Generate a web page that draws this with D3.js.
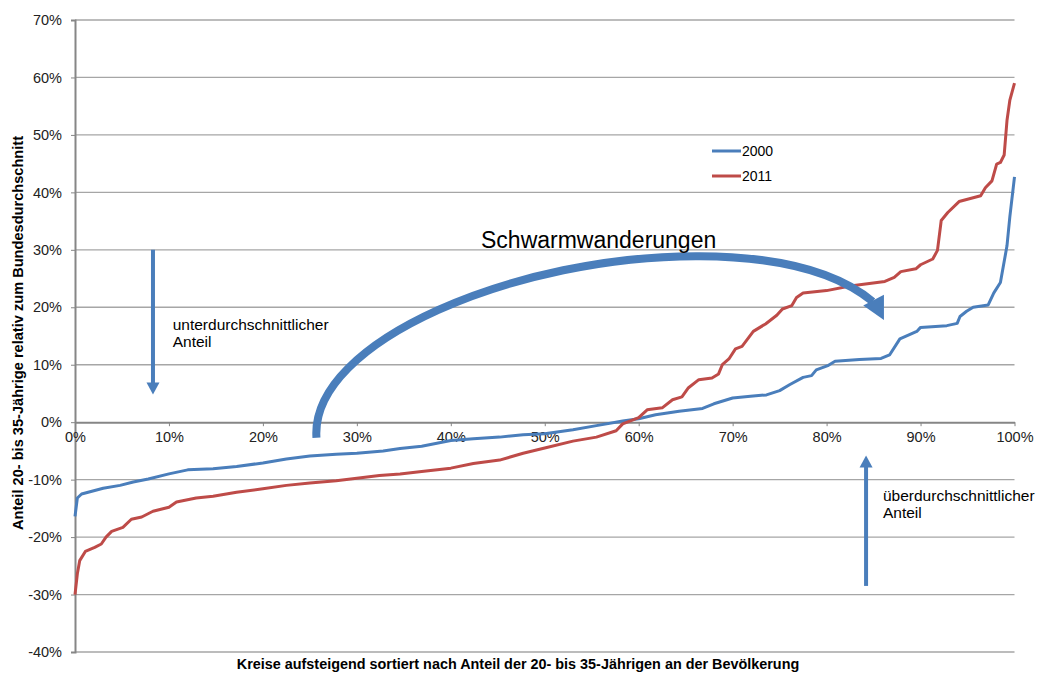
<!DOCTYPE html>
<html>
<head>
<meta charset="utf-8">
<script src="https://cdn.jsdelivr.net/npm/d3@7"></script>
<style>
  body { margin: 0; background: #fff; }
  svg { font-family: "Liberation Sans", Arial, sans-serif; }
</style>
</head>
<body>
<script>
// Rang der Kreise in % (x) und Abweichung vom Bundesdurchschnitt in % (y)
const rank2000 = [0, 0.25, 0.7, 1.6, 3, 4.8, 6.2, 7.8, 10, 12, 14.7, 17.2, 20, 22.5, 25, 27.8, 30, 32.8, 34.6, 36.9,
  40, 42.4, 45.2, 47.7, 50, 53, 55.5, 58.3, 60, 61.8, 64.3, 66.8, 68, 70, 71.9, 73.6, 75, 76.1, 77.5, 78.4,
  78.9, 80.2, 80.9, 83.5, 85.8, 86.7, 87.8, 89.6, 90, 92.8, 93.9, 94.2, 94.9, 95.6, 97.2, 97.8, 98.5, 99.2, 99.5, 100];
const values2000 = [-16.4, -13.2, -12.5, -12.1, -11.5, -11.0, -10.4, -9.9, -9.0, -8.3, -8.1, -7.7, -7.1, -6.4, -5.9, -5.6, -5.4, -5.0, -4.6, -4.2,
  -3.2, -2.9, -2.6, -2.2, -2.0, -1.3, -0.6, 0.2, 0.6, 1.3, 1.9, 2.4, 3.2, 4.2, 4.5, 4.75, 5.5, 6.55, 7.8, 8.1,
  9.1, 9.9, 10.6, 10.9, 11.1, 11.7, 14.5, 15.8, 16.5, 16.8, 17.2, 18.4, 19.3, 20.0, 20.4, 22.5, 24.3, 30.7, 35.7, 42.7];

const rank2011 = [0, 0.25, 0.5, 1.1, 2.1, 2.8, 3.3, 3.9, 5.1, 6, 7.1, 8.3, 10, 10.8, 12.9, 14.7, 17.2, 20, 22.5, 25,
  27.8, 30, 32.4, 34.6, 36.9, 40, 42.4, 45.2, 47.7, 50, 53, 55.5, 57.6, 58.3, 60, 60.9, 62.5, 63.6, 64.6, 65.3,
  66.4, 67.8, 68.5, 68.9, 69.6, 70.3, 71, 72.2, 73.5, 74.7, 75.3, 76.3, 76.8, 77.5, 80, 82.5, 86.2, 87.2, 87.9, 89.5,
  90, 91.3, 91.8, 92.2, 92.9, 94.1, 96.4, 96.9, 97.6, 98.1, 98.5, 98.9, 99.2, 99.5, 100];
const values2011 = [-30, -26.4, -24.1, -22.5, -21.8, -21.2, -20, -19, -18.3, -16.9, -16.5, -15.5, -14.8, -13.9, -13.2, -12.9, -12.2, -11.6, -11.0, -10.6,
  -10.2, -9.75, -9.3, -9.0, -8.6, -8.0, -7.2, -6.6, -5.4, -4.5, -3.3, -2.6, -1.5, -0.3, 0.8, 2.15, 2.5, 3.9, 4.4, 6.0,
  7.4, 7.7, 8.4, 10.0, 11.0, 12.75, 13.2, 15.8, 17.1, 18.6, 19.7, 20.3, 21.7, 22.5, 22.9, 23.7, 24.5, 25.2, 26.2, 26.7,
  27.4, 28.4, 29.9, 35.1, 36.5, 38.4, 39.4, 40.8, 42.0, 44.9, 45.2, 46.5, 52.5, 56, 59];

const xTicks = [0, 10, 20, 30, 40, 50, 60, 70, 80, 90, 100];
const yTicks = [-40, -30, -20, -10, 0, 10, 20, 30, 40, 50, 60, 70];
const seriesNames = ["2000", "2011"];
const colors = ["#4a7ebb", "#be4b48"];

const width = 1039;
const height = 675;

const x = d3.scaleLinear().domain([0, 100]).range([75, 1014.5]);
const y = d3.scaleLinear().domain([-40, 70]).range([652, 20]);

const svg = d3.select("body").append("svg")
  .attr("width", width)
  .attr("height", height);

// gridlines
svg.append("g")
  .selectAll("line")
  .data(yTicks.filter(d => d !== 0))
  .enter()
  .append("line")
  .attr("x1", x(0)).attr("x2", x(100))
  .attr("y1", d => y(d)).attr("y2", d => y(d))
  .style("stroke", "#a6a6a6")
  .style("stroke-width", 1.3);

// y axis
const yAxis = svg.append("g")
  .attr("transform", `translate(${x(0)},0)`)
  .call(d3.axisLeft(y).tickValues(yTicks).tickSize(4).tickPadding(9).tickFormat(d => d + "%"));
yAxis.select(".domain").style("stroke", "#868686").style("stroke-width", 2);
yAxis.selectAll(".tick line").style("stroke", "#868686");
yAxis.selectAll("text").style("font-size", "14.5px").style("font-family", null).style("fill", "#222");

// x axis on the 0 line
const xAxis = svg.append("g")
  .attr("transform", `translate(0,${y(0)})`)
  .call(d3.axisBottom(x).tickValues(xTicks).tickSize(4).tickSizeOuter(0).tickPadding(6).tickFormat(d => d + "%"));
xAxis.select(".domain").style("stroke", "#868686").style("stroke-width", 2);
xAxis.selectAll(".tick line").style("stroke", "#868686");
xAxis.selectAll("text").style("font-size", "14.5px").style("font-family", null).style("fill", "#222");

// series
const line = d3.line()
  .x(d => x(d[0]))
  .y(d => y(d[1]));

const series = [
  d3.zip(rank2000, values2000),
  d3.zip(rank2011, values2011)
];

svg.append("g")
  .selectAll("path")
  .data(series)
  .enter()
  .append("path")
  .attr("d", line)
  .style("fill", "none")
  .style("stroke", (d, i) => colors[i])
  .style("stroke-width", 3)
  .style("stroke-linejoin", "round");

// legend
const legend = svg.append("g")
  .selectAll("g")
  .data(seriesNames)
  .enter()
  .append("g")
  .attr("transform", (d, i) => `translate(712,${151 + i * 25})`);
legend.append("line")
  .attr("x1", 0).attr("x2", 29)
  .style("stroke", (d, i) => colors[i])
  .style("stroke-width", 3);
legend.append("text")
  .attr("x", 30).attr("dy", "0.35em")
  .style("font-size", "14px")
  .text(d => d);

// annotations
const arrowColor = "#4a7ebb";
const ann = svg.append("g");

// big curved arrow "Schwarmwanderungen"
const curve = d3.path();
curve.moveTo(x(25.7), y(-2.7));
curve.bezierCurveTo(x(25.0), y(14.3), x(47.4), y(29.1), x(66.5), y(28.9));
curve.bezierCurveTo(x(75.6), y(28.8), x(81.5), y(25.6), x(84.9), y(21.0));
ann.append("path")
  .attr("d", curve.toString())
  .style("fill", "none")
  .style("stroke", arrowColor)
  .style("stroke-width", 8);
ann.append("path")
  .attr("d", d3.line()([[x(83.9), y(20.3)], [x(86.1), y(22.2)], [x(86.1), y(17.8)]]) + "Z")
  .style("fill", arrowColor);

ann.append("text")
  .attr("x", 481).attr("y", y(30.3))
  .style("font-size", "23px")
  .text("Schwarmwanderungen");

// vertical arrows
function vArrow(xv, from, to) {
  const dir = to < from ? 1 : -1;
  const tip = y(to);
  ann.append("line")
    .attr("x1", x(xv)).attr("x2", x(xv))
    .attr("y1", y(from)).attr("y2", tip - dir * 10)
    .style("stroke", arrowColor)
    .style("stroke-width", 4);
  ann.append("path")
    .attr("d", d3.line()([[x(xv) - 6.5, tip - dir * 12], [x(xv) + 6.5, tip - dir * 12], [x(xv), tip]]) + "Z")
    .style("fill", arrowColor);
}
vArrow(8.3, 30, 4.8);
vArrow(84.2, -28.5, -5.8);

function label(xv, yv, lines) {
  const t = ann.append("text")
    .attr("x", x(xv)).attr("y", y(yv))
    .style("font-size", "15.5px");
  t.selectAll("tspan")
    .data(lines)
    .enter()
    .append("tspan")
    .attr("x", x(xv))
    .attr("dy", (d, i) => i === 0 ? 0 : 17)
    .text(d => d);
}
label(10.4, 16.0, ["unterdurchschnittlicher", "Anteil"]);
label(86.0, -13.7, ["überdurchschnittlicher", "Anteil"]);

// axis titles
svg.append("text")
  .attr("transform", "translate(23,333) rotate(-90)")
  .attr("text-anchor", "middle")
  .style("font-size", "14.6px")
  .style("font-weight", "bold")
  .text("Anteil 20- bis 35-Jährige relativ zum Bundesdurchschnitt");

svg.append("text")
  .attr("x", 518).attr("y", 669)
  .attr("text-anchor", "middle")
  .style("font-size", "14.4px")
  .style("font-weight", "bold")
  .text("Kreise aufsteigend sortiert nach Anteil der 20- bis 35-Jährigen an der Bevölkerung");
</script>
</body>
</html>
